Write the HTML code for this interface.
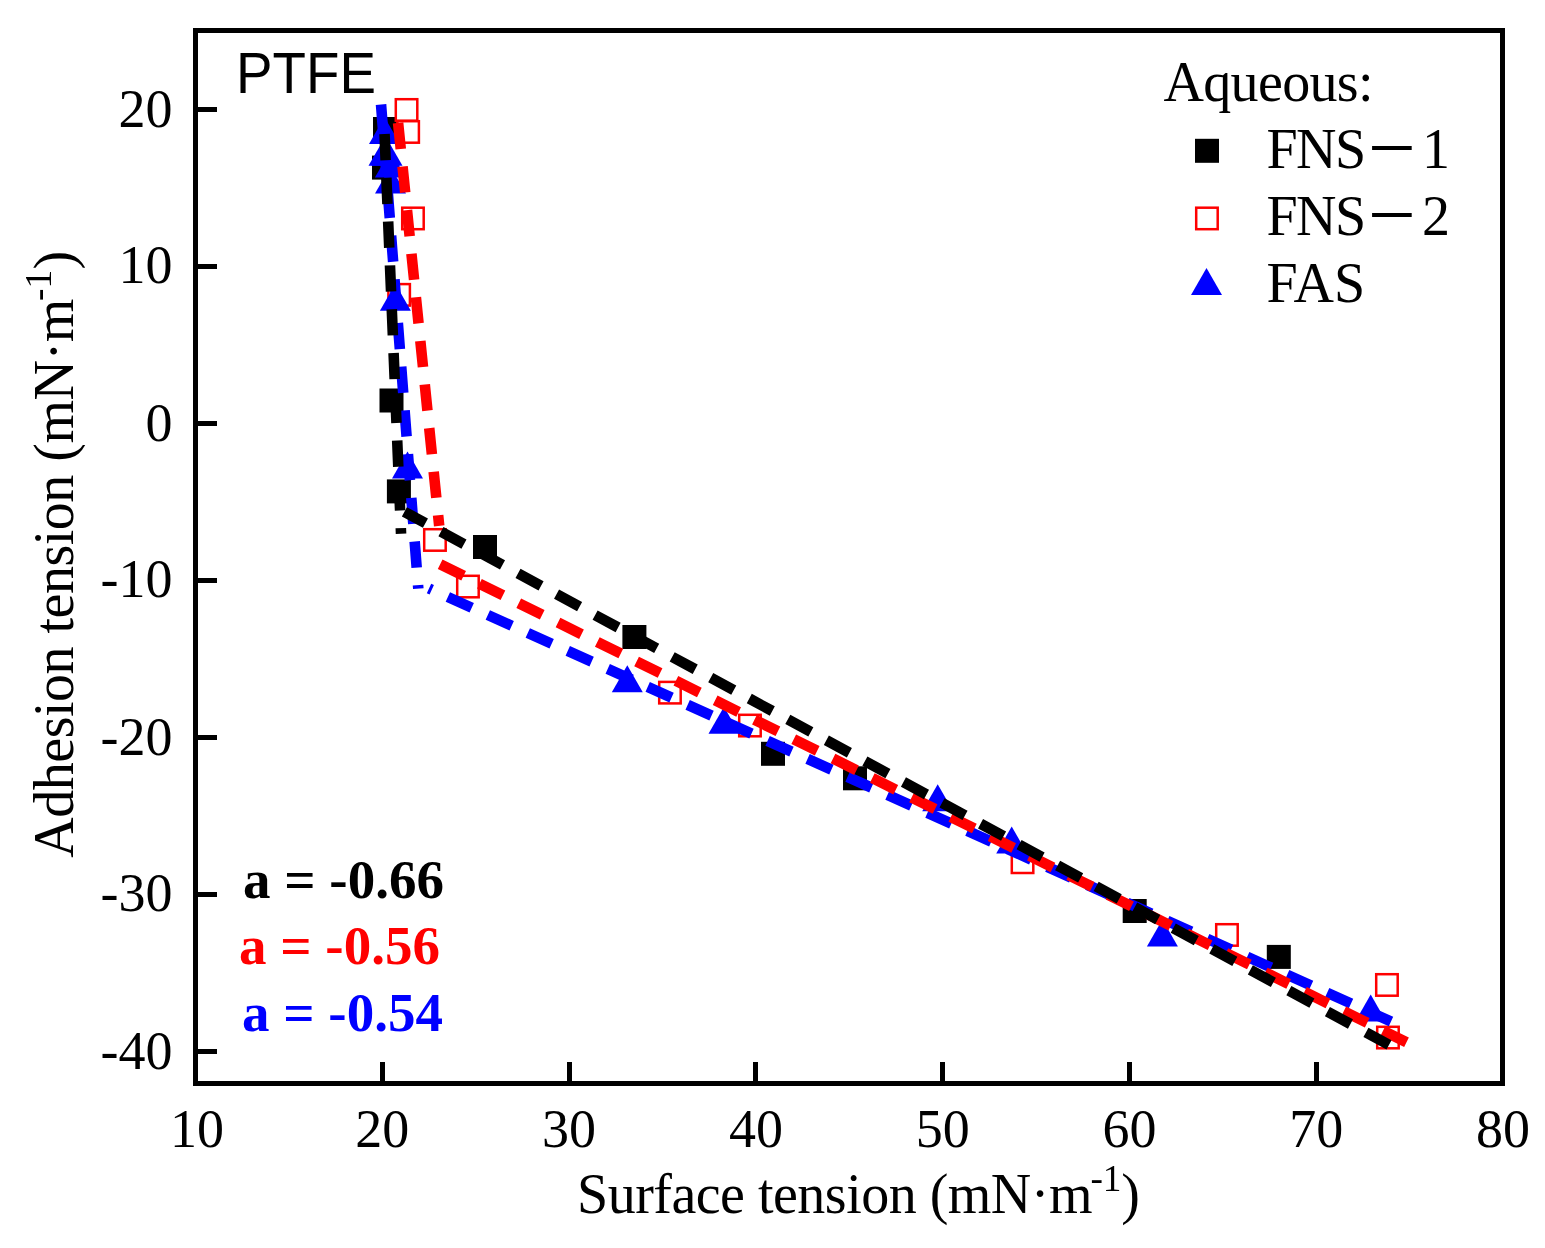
<!DOCTYPE html><html><head><meta charset="utf-8"><style>html,body{margin:0;padding:0;background:#fff;}svg{display:block}.t{font-family:"Liberation Serif","Noto Serif CJK SC",serif;}.s{font-family:"Liberation Sans",sans-serif;}</style></head><body>
<svg width="1545" height="1248" viewBox="0 0 1545 1248">
<rect width="1545" height="1248" fill="#fff"/>
<path d="M198 109.5H217 M198 266.5H217 M198 423.5H217 M198 580.5H217 M198 737.5H217 M198 894.5H217 M198 1051.5H217 M382.5 1081V1062 M569.5 1081V1062 M755.5 1081V1062 M942.5 1081V1062 M1129.5 1081V1062 M1316.5 1081V1062" stroke="#000" stroke-width="5" fill="none"/>
<rect x="195.5" y="30.5" width="1307" height="1053" fill="none" stroke="#000" stroke-width="5"/>
<rect x="373.0" y="117.0" width="24" height="24" fill="#000"/>
<rect x="372.0" y="155.6" width="24" height="24" fill="#000"/>
<rect x="379.5" y="388.5" width="24" height="24" fill="#000"/>
<rect x="386.9" y="479.4" width="24" height="24" fill="#000"/>
<rect x="473.0" y="535.0" width="24" height="24" fill="#000"/>
<rect x="622.4" y="625.0" width="24" height="24" fill="#000"/>
<rect x="761.0" y="741.8" width="24" height="24" fill="#000"/>
<rect x="843.0" y="766.3" width="24" height="24" fill="#000"/>
<rect x="1122.7" y="899.0" width="24" height="24" fill="#000"/>
<rect x="1266.8" y="944.9" width="24" height="24" fill="#000"/>
<rect x="395.8" y="99.2" width="21.5" height="21.5" fill="#fff" stroke="#f00" stroke-width="2.5"/>
<rect x="397.4" y="121.2" width="21.5" height="21.5" fill="#fff" stroke="#f00" stroke-width="2.5"/>
<rect x="402.2" y="207.7" width="21.5" height="21.5" fill="#fff" stroke="#f00" stroke-width="2.5"/>
<rect x="388.4" y="284.1" width="21.5" height="21.5" fill="#fff" stroke="#f00" stroke-width="2.5"/>
<rect x="424.2" y="529.2" width="21.5" height="21.5" fill="#fff" stroke="#f00" stroke-width="2.5"/>
<rect x="457.2" y="575.8" width="21.5" height="21.5" fill="#fff" stroke="#f00" stroke-width="2.5"/>
<rect x="659.2" y="681.9" width="21.5" height="21.5" fill="#fff" stroke="#f00" stroke-width="2.5"/>
<rect x="739.2" y="714.8" width="21.5" height="21.5" fill="#fff" stroke="#f00" stroke-width="2.5"/>
<rect x="1011.8" y="851.5" width="21.5" height="21.5" fill="#fff" stroke="#f00" stroke-width="2.5"/>
<rect x="1216.2" y="924.2" width="21.5" height="21.5" fill="#fff" stroke="#f00" stroke-width="2.5"/>
<rect x="1376.2" y="974.2" width="21.5" height="21.5" fill="#fff" stroke="#f00" stroke-width="2.5"/>
<rect x="1377.2" y="1026.8" width="21.5" height="21.5" fill="#fff" stroke="#f00" stroke-width="2.5"/>
<path d="M384.5 116.9L400.0 143.9H369.0Z" fill="#00f"/>
<path d="M384.0 138.8L399.5 165.8H368.5Z" fill="#00f"/>
<path d="M387.0 138.8L402.5 165.8H371.5Z" fill="#00f"/>
<path d="M390.4 150.6L405.9 177.6H374.9Z" fill="#00f"/>
<path d="M390.5 166.6L406.0 193.6H375.0Z" fill="#00f"/>
<path d="M395.4 283.8L410.9 310.8H379.9Z" fill="#00f"/>
<path d="M407.5 451.6L423.0 478.6H392.0Z" fill="#00f"/>
<path d="M627.3 665.3L642.8 692.3H611.8Z" fill="#00f"/>
<path d="M724.0 706.7L739.5 733.7H708.5Z" fill="#00f"/>
<path d="M937.7 784.2L953.2 811.2H922.2Z" fill="#00f"/>
<path d="M1011.7 826.5L1027.2 853.5H996.2Z" fill="#00f"/>
<path d="M1162.4 919.5L1177.9 946.5H1146.9Z" fill="#00f"/>
<path d="M1370.7 994.6L1386.2 1021.6H1355.2Z" fill="#00f"/>
<path d="M381.04 104.50L418.30 588.70" stroke="#00f" stroke-dasharray="26.2 17.63" stroke-width="10.6" fill="none" />
<path d="M1391.00 1021.50L429.00 588.50" stroke="#00f" stroke-dasharray="26.2 17.63" stroke-width="10.6" fill="none" />
<path d="M398.10 122.90L439.20 525.90" stroke="#f00" stroke-dasharray="26.2 17.63" stroke-width="10.6" fill="none" />
<path d="M1406.50 1042.30L436.00 562.20" stroke="#f00" stroke-dasharray="26.2 17.63" stroke-width="10.6" fill="none" />
<path d="M384.55 134.00L401.05 533.70" stroke="#000" stroke-dasharray="26.2 17.63" stroke-width="10.6" fill="none" />
<path d="M1389.00 1044.90L404.40 511.80" stroke="#000" stroke-dasharray="26.2 17.63" stroke-width="10.6" fill="none" />
<text class="t" x="172.5" y="126.9" font-size="54" text-anchor="end">20</text>
<text class="t" x="172.5" y="282.7" font-size="54" text-anchor="end">10</text>
<text class="t" x="172.5" y="440.9" font-size="54" text-anchor="end">0</text>
<text class="t" x="172.5" y="596.8" font-size="54" text-anchor="end">-10</text>
<text class="t" x="172.5" y="754.9" font-size="54" text-anchor="end">-20</text>
<text class="t" x="172.5" y="910.8" font-size="54" text-anchor="end">-30</text>
<text class="t" x="172.5" y="1068.7" font-size="54" text-anchor="end">-40</text>
<text class="t" x="197.0" y="1147" font-size="54" text-anchor="middle">10</text>
<text class="t" x="382.3" y="1147" font-size="54" text-anchor="middle">20</text>
<text class="t" x="569.1" y="1147" font-size="54" text-anchor="middle">30</text>
<text class="t" x="755.9" y="1147" font-size="54" text-anchor="middle">40</text>
<text class="t" x="942.7" y="1147" font-size="54" text-anchor="middle">50</text>
<text class="t" x="1129.5" y="1147" font-size="54" text-anchor="middle">60</text>
<text class="t" x="1316.3" y="1147" font-size="54" text-anchor="middle">70</text>
<text class="t" x="1503.1" y="1147" font-size="54" text-anchor="middle">80</text>
<text class="t" x="577" y="1213" font-size="56" textLength="515.5">Surface tension (mN·m</text>
<text class="t" x="1090.4" y="1191" font-size="37.3">-1</text>
<text class="t" x="1121.2" y="1213" font-size="56">)</text>
<g transform="translate(73 857) rotate(-90)"><text class="t" x="-0.7" y="0" font-size="56" textLength="559">Adhesion tension (mN·m</text><text class="t" x="556" y="-22" font-size="37.3">-1</text><text class="t" x="587.5" y="0" font-size="56">)</text></g>
<text class="s" x="236.1" y="92.8" font-size="58" textLength="139.9" lengthAdjust="spacingAndGlyphs">PTFE</text>
<text class="t" x="1163.5" y="101" font-size="56" textLength="210">Aqueous:</text>
<rect x="1195.0" y="138.8" width="24" height="24" fill="#000"/>
<rect x="1196.2" y="207.7" width="21.5" height="21.5" fill="#fff" stroke="#f00" stroke-width="2.5"/>
<path d="M1206.5 268.0L1222.0 295.0H1191.0Z" fill="#00f"/>
<text class="t" y="168.2" font-size="56"><tspan x="1266.5" letter-spacing="-1.6">FNS</tspan><tspan x="1367" font-size="49.8" dy="-2.3" stroke="#000" stroke-width="1.8">－</tspan><tspan x="1422" dy="2.3">1</tspan></text>
<text class="t" y="234.8" font-size="56"><tspan x="1266.5" letter-spacing="-1.6">FNS</tspan><tspan x="1367" font-size="49.8" dy="-2.3" stroke="#000" stroke-width="1.8">－</tspan><tspan x="1422" dy="2.3">2</tspan></text>
<text class="t" x="1266.5" y="302" font-size="56">FAS</text>
<text class="t" x="243" y="898.4" font-size="55" font-weight="bold" fill="#000">a = -0.66</text>
<text class="t" x="239" y="964.2" font-size="55" font-weight="bold" fill="#f00">a = -0.56</text>
<text class="t" x="242" y="1030.9" font-size="55" font-weight="bold" fill="#00f">a = -0.54</text>
</svg></body></html>
